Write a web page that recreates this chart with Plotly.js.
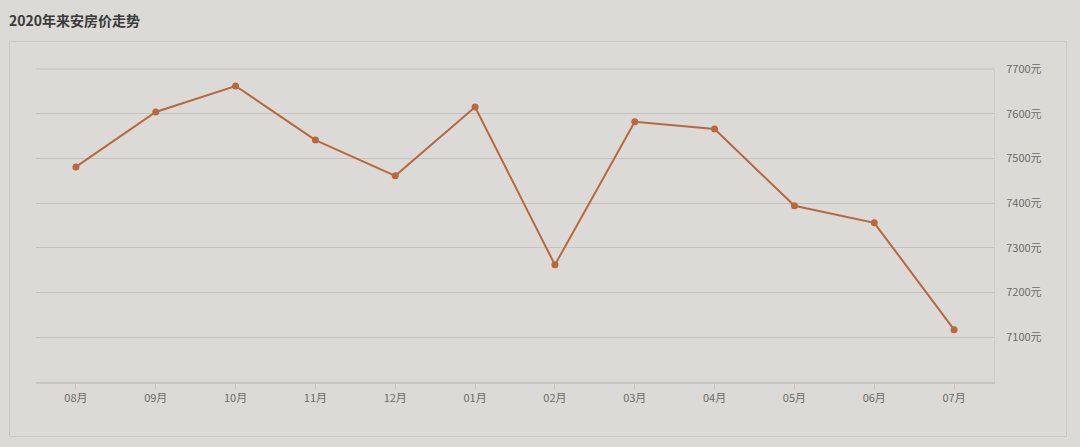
<!DOCTYPE html>
<html>
<head>
<meta charset="utf-8">
<script src="https://cdn.plot.ly/plotly-3.0.1.min.js"></script>
<style>
html,body{margin:0;padding:0;background:#dcdad6;}
#chart{width:1080px;height:447px;}
</style>
</head>
<body>
<div id="chart"></div>
<script>
const months = ["08月","09月","10月","11月","12月","01月","02月","03月","04月","05月","06月","07月"];
const prices = [7481, 7604, 7662, 7541, 7461, 7615, 7262, 7582, 7566, 7394, 7356, 7117];
const yTickVals = [7100, 7200, 7300, 7400, 7500, 7600, 7700];
const yTickText = ["7100元","7200元","7300元","7400元","7500元","7600元","7700元"];
const titleText = "2020年来安房价走势";

const L = 36, R = 86, T = 69, B = 65;
const W = 1080, H = 447;
const pw = W - L - R, ph = H - T - B;
function px(x){ return (x - L) / pw; }
function py(y){ return (H - B - y) / ph; }

const font = '"Noto Sans CJK SC", "Noto Sans", sans-serif';

const trace = {
  x: months,
  y: prices,
  type: 'scatter',
  mode: 'lines+markers',
  line: {color: '#b8673f', width: 2},
  marker: {color: '#b8673f', size: 7},
  hoverinfo: 'x+y'
};

const layout = {
  width: W, height: H,
  paper_bgcolor: '#dcdad6',
  plot_bgcolor: '#dcdad6',
  margin: {l: L, r: R, t: T, b: B, pad: 0},
  showlegend: false,
  title: {text: '<b>' + titleText + '</b>', x: 9/W, xanchor: 'left', y: 1 - 21/H, yanchor: 'middle',
          font: {family: font, size: 14, color: '#3a3a3a'}},
  xaxis: {
    type: 'category',
    range: [-0.5, 11.5],
    showgrid: false,
    zeroline: false,
    showline: true,
    linecolor: '#c6c4c0',
    linewidth: 2,
    ticks: 'outside',
    ticklen: 5,
    tickwidth: 1,
    tickcolor: '#c6c4c0',
    tickfont: {family: font, size: 11, color: '#6b6b6b'},
    fixedrange: true
  },
  yaxis: {
    side: 'right',
    range: [7000, 7700],
    tickvals: yTickVals,
    ticktext: yTickText,
    showgrid: true,
    gridcolor: '#c4c2be',
    gridwidth: 1,
    zeroline: false,
    showline: true,
    linecolor: '#cfcdc9',
    linewidth: 1,
    ticks: '',
    ticklabelstandoff: 9,
    tickfont: {family: font, size: 11, color: '#6b6b6b'},
    fixedrange: true
  },
  shapes: [
    {type: 'rect', xref: 'paper', yref: 'paper',
     x0: px(9.5), x1: px(1066.5), y0: py(436.5), y1: py(41.5),
     line: {color: '#cbc9c5', width: 1}, fillcolor: 'rgba(0,0,0,0)', layer: 'below'},
    {type: 'line', xref: 'paper', yref: 'paper',
     x0: 0, x1: 1, y0: 1, y1: 1,
     line: {color: '#c4c2be', width: 1}, layer: 'below'}
  ]
};

Plotly.newPlot('chart', [trace], layout, {displayModeBar: false, staticPlot: true});
</script>
</body>
</html>
